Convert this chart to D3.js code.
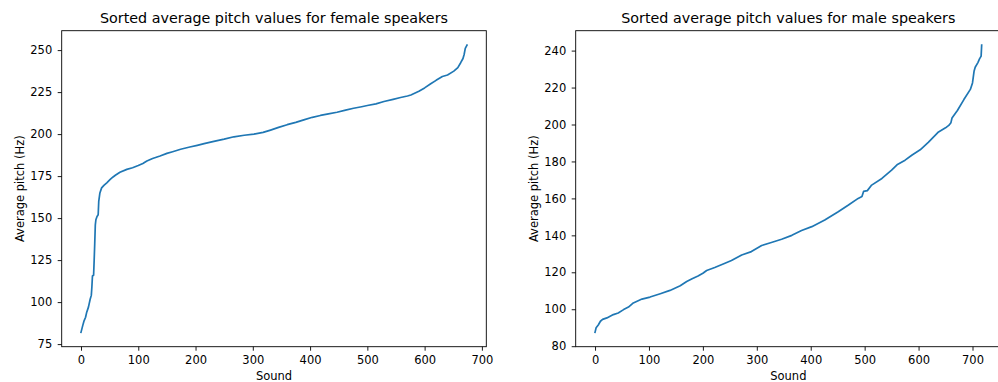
<!DOCTYPE html>
<html>
<head>
<meta charset="utf-8">
<script src="https://cdn.jsdelivr.net/npm/d3@7"></script>
<style>
  html, body { margin: 0; padding: 0; background: #fff; overflow: hidden; }
  svg { display: block; }
  text { font-family: "DejaVu Sans", sans-serif; fill: #000; }
</style>
</head>
<body>
<svg id="chart" width="998" height="382"></svg>
<script>
// Sorted average pitch, female speakers: sound index and pitch (Hz)
const femaleIndex = [0, 3, 5, 8, 10, 13, 16, 18, 19, 20, 22, 23, 24, 25, 26, 28, 30, 31, 33, 36,
  40, 45, 51, 56, 60, 68, 80, 90, 100, 108, 115, 125, 138, 150, 160, 174, 190, 203, 215, 232,
  250, 267, 285, 302, 318, 331, 345, 360, 375, 389, 404, 418, 432, 447, 462, 476, 490, 500, 515, 529,
  545, 558, 570, 576, 590, 600, 610, 620, 631, 640, 651, 658, 663, 667, 669, 671, 674];
const femalePitch = [82, 86, 88.5, 91, 94, 97, 101.7, 104, 109, 115.5, 116, 125, 135, 146, 149, 151, 152, 160, 165, 168,
  169.5, 171, 173, 174.5, 175.5, 177.3, 179, 180, 181.3, 182.5, 184, 185.5, 187, 188.5, 189.5, 191, 192.3, 193.3, 194.3, 195.7,
  197, 198.4, 199.3, 200, 201, 202.4, 204, 205.6, 207, 208.5, 210, 211.1, 212, 213, 214.3, 215.4, 216.3, 217, 218, 219.4,
  220.7, 221.8, 222.7, 223.3, 225.5, 227.5, 229.8, 232, 234.3, 235.2, 237.5, 239.6, 242.5, 245, 247.4, 251, 253];

// Sorted average pitch, male speakers: sound index and pitch (Hz)
const maleIndex = [0, 2, 6, 10, 14, 22, 34, 43, 53, 62, 71, 87, 102, 121, 139, 158, 170, 180, 191, 200,
  207, 222, 241, 253, 272, 290, 309, 327, 346, 365, 383, 402, 426, 451, 470, 488, 495, 498, 505, 513,
  532, 550, 560, 575, 588, 603, 618, 637, 650, 656, 660, 662, 672, 684, 696, 700, 703, 705, 710, 713,
  716, 717];
const malePitch = [87.5, 90, 91.5, 93.5, 94.5, 95.3, 97.1, 98, 99.8, 101.2, 103.4, 105.5, 106.6, 108.4, 110.2, 112.7, 115, 116.5, 118, 119.5,
  121, 122.6, 124.9, 126.4, 129.4, 131.2, 134.5, 136.1, 137.9, 140, 142.6, 144.7, 148.3, 152.8, 156.4, 160, 161, 163.8, 164.2, 167.2,
  170.8, 175.3, 178.2, 180.7, 183.5, 186.3, 190.3, 196, 198.2, 199.5, 201, 203.5, 207.6, 213.5, 219, 222.5, 229, 231, 233.5, 235.5,
  237, 243];

// Tick labels
const xTicks = [0, 100, 200, 300, 400, 500, 600, 700];
const femaleYTicks = [75, 100, 125, 150, 175, 200, 225, 250];
const maleYTicks = [80, 100, 120, 140, 160, 180, 200, 220, 240];

const titles = ["Sorted average pitch values for female speakers", "Sorted average pitch values for male speakers"];
const xLabel = "Sound";
const yLabel = "Average pitch (Hz)";

const svg = d3.select("#chart");
const lineColor = "#1f77b4";
const tickFont = 11.5;
const titleFont = 14.3;

// pad a data extent by 5% on each side
function padded(values) {
  const [lo, hi] = d3.extent(values);
  const m = (hi - lo) * 0.05;
  return [lo - m, hi + m];
}

function panel(box, idx, vals, yTicks, title) {
  const x = d3.scaleLinear().domain(padded(idx)).range([box.left, box.right]);
  const y = d3.scaleLinear().domain(padded(vals)).range([box.bottom, box.top]);
  const g = svg.append("g");

  // line
  const pts = idx.map((d, i) => [d, vals[i]]);
  g.append("path")
    .datum(pts)
    .attr("fill", "none")
    .attr("stroke", lineColor)
    .attr("stroke-width", 1.7)
    .attr("stroke-linejoin", "round")
    .attr("stroke-linecap", "square")
    .attr("d", d3.line().x(d => x(d[0])).y(d => y(d[1])));

  // axes
  const xa = g.append("g")
    .attr("transform", `translate(0,${box.bottom})`)
    .call(d3.axisBottom(x).tickValues(xTicks).tickSize(4).tickPadding(5).tickFormat(d3.format("d")));
  const ya = g.append("g")
    .attr("transform", `translate(${box.left},0)`)
    .call(d3.axisLeft(y).tickValues(yTicks).tickSize(4).tickPadding(5.5).tickFormat(d3.format("d")));
  [xa, ya].forEach(a => {
    a.select(".domain").remove();
    a.selectAll(".tick line").attr("stroke", "#000").attr("stroke-width", 0.9);
    a.selectAll(".tick text")
      .attr("font-family", "DejaVu Sans, sans-serif")
      .attr("font-size", tickFont)
      .attr("fill", "#000");
  });

  // frame
  g.append("rect")
    .attr("x", box.left).attr("y", box.top)
    .attr("width", box.right - box.left).attr("height", box.bottom - box.top)
    .attr("fill", "none").attr("stroke", "#000").attr("stroke-width", 0.9);

  const cx = (box.left + box.right) / 2;
  g.append("text")
    .attr("x", cx).attr("y", 23)
    .attr("text-anchor", "middle")
    .attr("font-size", titleFont)
    .text(title);
  g.append("text")
    .attr("x", cx).attr("y", 380.2)
    .attr("text-anchor", "middle")
    .attr("font-size", tickFont)
    .text(xLabel);
  g.append("text")
    .attr("transform", `translate(${box.left - 38},${(box.top + box.bottom) / 2}) rotate(-90)`)
    .attr("text-anchor", "middle")
    .attr("font-size", tickFont)
    .text(yLabel);
}

panel({ left: 61.7, right: 486.3, top: 30.7, bottom: 346.7 }, femaleIndex, femalePitch, femaleYTicks, titles[0]);
panel({ left: 575.7, right: 1001, top: 30.7, bottom: 346.7 }, maleIndex, malePitch, maleYTicks, titles[1]);
</script>
</body>
</html>
